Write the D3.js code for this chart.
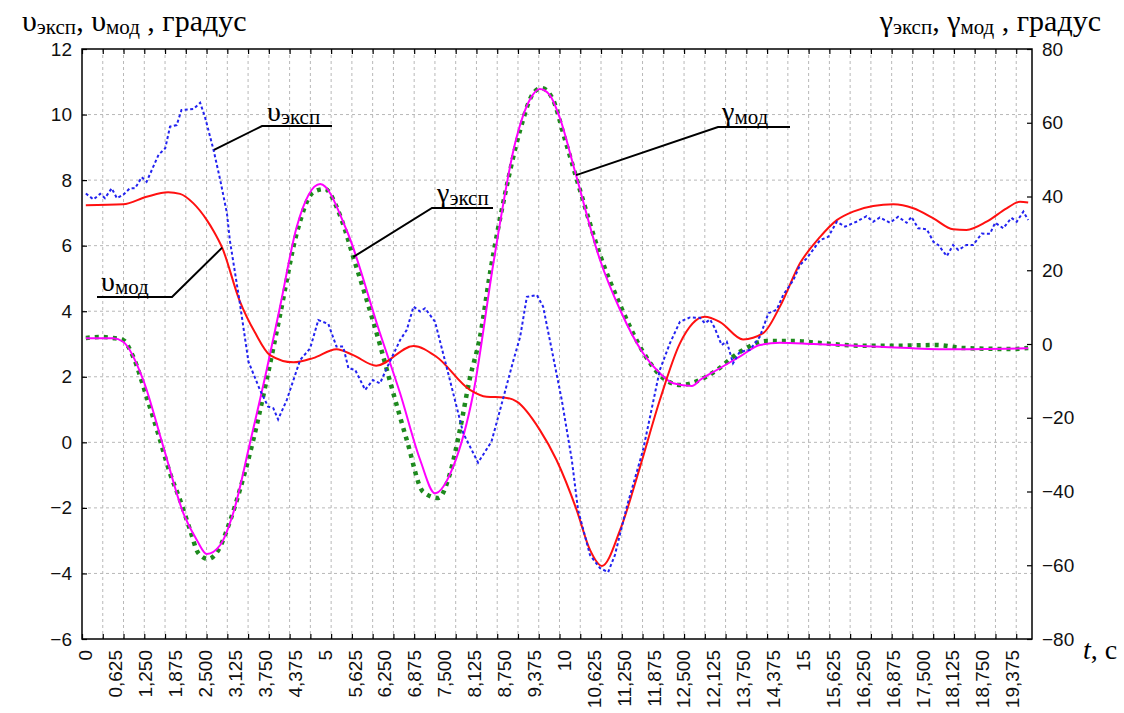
<!DOCTYPE html>
<html>
<head>
<meta charset="utf-8">
<script src="https://cdn.jsdelivr.net/npm/d3@7"></script>
<style>
  body { margin: 0; background: #fff; }
  svg { display: block; }
  .grid line { stroke: #b8b8b8; stroke-width: 1; stroke-dasharray: 3 3; }
  .tick text, .xlab { font-family: "Liberation Sans", Arial, sans-serif; font-size: 19px; fill: #111; }
  .tick line { stroke: #000; stroke-width: 1.2; }
  .title { font-family: "Liberation Serif", "Times New Roman", serif; fill: #000; white-space: pre; }
</style>
</head>
<body>
<svg width="1124" height="713"></svg>
<script>
// time axis labels (s)
let xTickValues = [0, 0.625, 1.25, 1.875, 2.5, 3.125, 3.75, 4.375, 5, 5.625, 6.25, 6.875, 7.5, 8.125, 8.75, 9.375,
  10, 10.625, 11.25, 11.875, 12.5, 13.125, 13.75, 14.375, 15, 15.625, 16.25, 16.875, 17.5, 18.125, 18.75, 19.375]
let xTickLabels = ['0', '0,625', '1,250', '1,875', '2,500', '3,125', '3,750', '4,375', '5', '5,625', '6,250', '6,875',
  '7,500', '8,125', '8,750', '9,375', '10', '10,625', '11,250', '11,875', '12,500', '12,125', '13,750', '14,375',
  '15', '15,625', '16,250', '16,875', '17,500', '18,125', '18,750', '19,375']
let leftTicks = [-6, -4, -2, 0, 2, 4, 6, 8, 10, 12]
let rightTicks = [-80, -60, -40, -20, 0, 20, 40, 60, 80]

// upsilon experiment (blue dotted), degrees
let vExpT = [0.00,0.16,0.30,0.40,0.54,0.65,0.78,0.92,1.03,1.17,1.27,1.38,1.52,1.66,1.76,1.90,2.00,2.25,2.39,2.49,
  2.67,2.81,2.95,3.01,3.21,3.40,3.64,3.81,3.92,4.02,4.20,4.48,4.69,4.86,5.07,5.24,5.38,5.49,5.63,5.84,
  6.00,6.15,6.29,6.57,6.71,6.85,6.99,7.09,7.30,7.54,7.68,7.89,8.20,8.48,8.66,8.94,9.08,9.22,9.43,9.56,
  9.77,9.95,10.16,10.29,10.54,10.75,10.92,11.06,11.31,11.65,12.00,12.21,12.42,12.63,12.84,12.94,13.05,13.15,13.29,13.40,
  13.53,13.67,13.88,14.09,14.27,14.44,14.58,14.79,14.93,15.07,15.35,15.52,15.70,15.87,16.11,16.32,16.46,16.60,16.81,16.98,
  17.16,17.26,17.40,17.58,17.72,17.82,18.00,18.13,18.24,18.41,18.55,18.73,18.90,19.01,19.18,19.35,19.46,19.60,19.70]
let vExp = [7.59,7.41,7.58,7.45,7.75,7.45,7.55,7.75,7.75,8.09,7.95,8.31,8.77,8.97,9.63,9.68,10.14,10.17,10.36,9.93,
  8.92,8.00,6.99,6.17,4.34,2.46,1.60,1.09,1.04,0.70,1.29,2.51,2.87,3.73,3.61,2.92,2.92,2.26,2.21,1.60,
  1.90,1.80,2.26,3.12,3.43,4.14,3.99,4.09,3.68,2.31,1.50,0.28,-0.62,0.02,0.99,2.51,3.22,4.44,4.49,4.14,
  2.61,1.29,-0.54,-2.06,-3.44,-3.84,-3.96,-3.44,-1.96,-0.23,2.21,3.02,3.68,3.81,3.80,3.63,3.75,3.48,2.97,3.07,
  2.41,2.76,2.82,3.22,3.94,4.04,4.50,4.95,5.41,5.61,6.17,6.27,6.73,6.58,6.73,6.90,6.73,6.86,6.70,6.88,
  6.70,6.88,6.53,6.50,6.12,6.02,5.68,6.02,5.87,6.02,6.02,6.37,6.36,6.70,6.53,6.85,6.73,7.04,6.78]

// upsilon model (red)
let vModT = [0,0.78,1.27,1.72,1.97,2.25,2.53,2.67,2.85,3.21,3.54,3.85,4.34,4.75,5.24,5.59,6.07,6.85,7.33,8.03,
  8.38,8.73,9.01,9.49,9.84,10.26,10.54,10.79,11.17,11.58,12.00,12.42,12.94,13.26,13.74,14.16,14.51,14.93,15.35,15.70,
  16.04,16.46,16.88,17.30,17.72,18.13,18.41,18.83,19.25,19.53,19.70]
let vMod = [7.23,7.26,7.49,7.63,7.58,7.29,6.78,6.45,5.94,4.34,3.34,2.66,2.44,2.57,2.84,2.66,2.34,2.94,2.61,1.60,
  1.39,1.37,1.24,0.38,-0.54,-2.06,-3.28,-3.77,-2.67,-0.78,1.29,3.02,3.83,3.67,3.14,3.33,4.14,5.46,6.27,6.78,
  7.04,7.21,7.26,7.14,6.83,6.50,6.48,6.73,7.14,7.34,7.32]

// gamma experiment (green dotted), right axis
let gExpT = [0,0.30,0.57,0.78,0.99,1.27,1.52,1.76,1.97,2.18,2.35,2.56,2.77,3.01,3.22,3.50,3.78,4.06,4.41,4.76,
  5.00,5.24,5.42,5.59,5.84,6.15,6.39,6.71,7.05,7.37,7.61,7.82,8.03,8.24,8.45,8.76,9.08,9.33,9.52,9.75,
  10.02,10.33,10.75,11.17,11.65,12.00,12.42,12.84,13.19,13.67,14.23,14.79,15.35,16.18,16.95,17.79,18.34,19.38,19.70]
let gExp = [1.62,1.90,1.62,1.08,-3.45,-14.30,-24.68,-35.07,-42.31,-50.44,-56.68,-58.31,-55.87,-48.19,-39.59,-26.03,-9.76,7.87,30.10,41.22,
  42.03,37.23,30.91,23.59,13.29,-0.27,-11.58,-26.03,-40.05,-41.76,-35.25,-23.32,-9.22,1.90,19.25,40.41,58.03,67.52,69.42,66.71,
  55.32,41.76,24.14,10.57,-2.17,-8.41,-11.12,-9.76,-7.05,-2.17,0.81,0.81,0.27,-0.46,-0.46,-0.27,-1.08,-1.36,-1.08]

// gamma model (magenta)
let gModT = [0,0.57,0.78,1.20,1.62,2.04,2.32,2.53,2.81,3.08,3.43,3.78,4.06,4.41,4.90,5.45,6.15,6.57,6.99,7.30,
  7.68,8.10,8.52,8.97,9.29,9.49,9.70,9.91,10.23,10.75,11.17,11.65,12.00,12.28,12.67,12.84,13.19,13.67,14.09,14.51,
  15.21,16.60,18.00,19.70]
let gMod = [1.54,1.54,0.62,-9.76,-27.85,-45.91,-53.15,-56.95,-54.51,-45.91,-26.93,-7.05,10.11,31.81,43.39,30.92,2.90,-13.37,-31.46,-40.49,
  -33.28,-13.37,21.88,54.24,66.44,69.15,67.52,61.29,46.64,22.78,9.22,-2.52,-7.95,-10.66,-11.39,-9.76,-7.05,-3.44,-0.27,0.35,
  0.00,-0.73,-1.44,-1.17]

let padLeft = 82, padRight = 1032, padTop = 49, padBottom = 639
let width = padRight - padLeft
let height = padBottom - padTop

let svg = d3.select('svg')
let graph = svg.append('g').attr('transform', `translate(${padLeft}, ${padTop})`)

const xScale = d3.scaleLinear().domain([-0.08, 19.78]).range([0, width])
// grid / tick spacing of the original plot (46 cells across)
const gridScale = d3.scaleLinear().domain([0, 45.76]).range([0, width])
const yLeft = d3.scaleLinear().domain([-6, 12]).range([height, 0])
const yRight = d3.scaleLinear().domain([-80, 80]).range([height, 0])

// background grid
graph.append('g')
  .attr('class', 'grid')
  .selectAll('line')
  .data(d3.range(1, 46))
  .enter()
  .append('line')
  .attr('x1', d => gridScale(d)).attr('x2', d => gridScale(d))
  .attr('y1', 0).attr('y2', height)

graph.append('g')
  .attr('class', 'grid')
  .selectAll('line')
  .data(leftTicks.slice(1, -1))
  .enter()
  .append('line')
  .attr('x1', 0).attr('x2', width)
  .attr('y1', d => yLeft(d)).attr('y2', d => yLeft(d))

// series
const zip = (t, v) => t.map((d, i) => [d, v[i]])
const lineL = d3.line().x(d => xScale(d[0])).y(d => yLeft(d[1]))
const lineR = d3.line().x(d => xScale(d[0])).y(d => yRight(d[1]))

graph.append('path')
  .attr('d', lineR.curve(d3.curveMonotoneX)(zip(gExpT, gExp)))
  .attr('fill', 'none')
  .attr('stroke', '#1e8a1e')
  .attr('stroke-width', 4.5)
  .attr('stroke-dasharray', '4 5')

graph.append('path')
  .attr('d', lineR.curve(d3.curveMonotoneX)(zip(gModT, gMod)))
  .attr('fill', 'none')
  .attr('stroke', '#ff00ff')
  .attr('stroke-width', 2)

graph.append('path')
  .attr('d', lineL.curve(d3.curveMonotoneX)(zip(vModT, vMod)))
  .attr('fill', 'none')
  .attr('stroke', '#ff1010')
  .attr('stroke-width', 2)

graph.append('path')
  .attr('d', lineL.curve(d3.curveLinear)(zip(vExpT, vExp)))
  .attr('fill', 'none')
  .attr('stroke', '#2222f0')
  .attr('stroke-width', 2)
  .attr('stroke-dasharray', '3 2.5')

// frame and inward ticks
graph.append('rect')
  .attr('width', width).attr('height', height)
  .attr('fill', 'none').attr('stroke', '#000').attr('stroke-width', 1.5)

let axL = graph.append('g').call(d3.axisLeft(yLeft).tickValues(leftTicks).tickSize(-5).tickPadding(10))
let axR = graph.append('g').attr('transform', `translate(${width}, 0)`)
  .call(d3.axisRight(yRight).tickValues(rightTicks).tickSize(-5).tickPadding(10))
let axB = graph.append('g').attr('transform', `translate(0, ${height})`)
  .call(d3.axisBottom(gridScale).tickValues(d3.range(46)).tickSize(-5).tickFormat(''))
let axT = graph.append('g')
  .call(d3.axisTop(gridScale).tickValues(d3.range(46)).tickSize(-5).tickFormat(''))
;[axL, axR, axB, axT].forEach(a => { a.select('.domain').remove(); a.attr('font-size', null).attr('font-family', null) })

// rotated time labels
graph.append('g')
  .selectAll('text')
  .data(xTickValues)
  .enter()
  .append('text')
  .attr('class', 'xlab')
  .attr('transform', d => `translate(${xScale(d)}, ${height + 11}) rotate(-90)`)
  .attr('text-anchor', 'end')
  .attr('dy', '0.35em')
  .text((d, i) => xTickLabels[i])

// text with subscripts
function richText(x, y, parts, size, subSize, anchor) {
  let t = svg.append('text')
    .attr('class', 'title')
    .attr('x', x).attr('y', y)
    .attr('font-size', size)
    .attr('text-anchor', anchor || 'start')
  let low = false
  parts.forEach(p => {
    let sub = p[1]
    let s = t.append('tspan').text(p[0])
    if (sub) s.attr('font-size', subSize)
    if (sub && !low) s.attr('dy', 3)
    if (!sub && low) s.attr('dy', -3)
    low = sub
  })
  return t
}

richText(22, 31, [['υ', 0], ['эксп', 1], [', υ', 0], ['мод', 1], [' , градус', 0]], 30, 21)
richText(1101, 31, [['γ', 0], ['эксп', 1], [', γ', 0], ['мод', 1], [' , градус', 0]], 30, 21, 'end')

let tLabel = svg.append('text').attr('class', 'title').attr('x', 1083).attr('y', 659).attr('font-size', 28)
tLabel.append('tspan').attr('font-style', 'italic').text('t')
tLabel.append('tspan').text(', c')

// callouts: anchor on the curve, elbow, shelf end, text position
let callouts = [
  { main: 'υ', sub: 'эксп', p: [xScale(2.68) + padLeft, yLeft(8.92) + padTop], elbow: [262, 126], end: 332, text: [267, 121] },
  { main: 'υ', sub: 'мод', p: [xScale(2.85) + padLeft, yLeft(5.94) + padTop], elbow: [172, 297], end: 97, text: [101, 291] },
  { main: 'γ', sub: 'эксп', p: [xScale(5.59) + padLeft, yRight(23.59) + padTop], elbow: [432, 208], end: 493, text: [437, 202] },
  { main: 'γ', sub: 'мод', p: [xScale(10.25) + padLeft, yRight(45.8) + padTop], elbow: [718, 127], end: 790, text: [722, 121] },
]
callouts.forEach(c => {
  svg.append('path')
    .attr('d', `M${c.p[0]},${c.p[1]}L${c.elbow[0]},${c.elbow[1]}H${c.end}`)
    .attr('fill', 'none').attr('stroke', '#000').attr('stroke-width', 2)
  richText(c.text[0], c.text[1], [[c.main, 0], [c.sub, 1]], 28, 21)
})
</script>
</body>
</html>
